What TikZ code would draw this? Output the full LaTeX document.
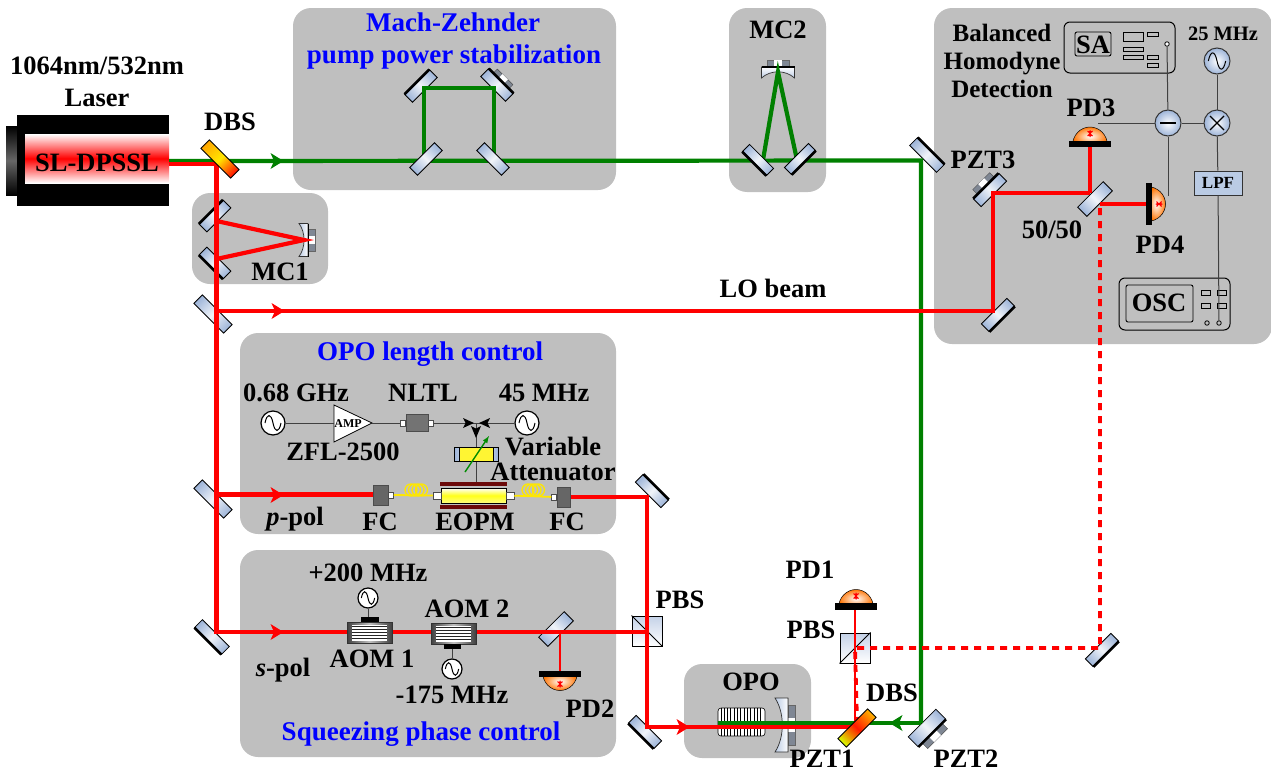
\documentclass[tikz,border=0pt]{standalone}
\usepackage{fontspec}
\setmainfont{Liberation Serif}
\usetikzlibrary{calc}
\definecolor{panel}{HTML}{BFBFBF}
\definecolor{gbeam}{HTML}{008000}
\definecolor{rbeam}{HTML}{FF0000}
\definecolor{mblue}{HTML}{9DB4D8}
\definecolor{pzgray}{HTML}{7F8794}
\definecolor{darkred}{HTML}{6B0A0A}
\tikzset{
  panelbox/.style={fill=panel,draw=none,rounded corners=18pt},
  redb/.style={draw=rbeam,line width=4.2pt},
  redthin/.style={draw=rbeam,line width=2.6pt},
  greenb/.style={draw=gbeam,line width=4.2pt},
  reddash/.style={draw=rbeam,line width=3.8pt,dash pattern=on 7pt off 6pt},
  wire/.style={draw=black!75,line width=1pt},
  lab/.style={font=\bfseries\fontsize{26.5}{28}\selectfont,inner sep=0pt,text=black},
  bluelab/.style={font=\bfseries\fontsize{27}{28}\selectfont,inner sep=0pt,text=blue},
  smalllab/.style={font=\bfseries\fontsize{20.5}{22}\selectfont,inner sep=0pt},
  srcnode/.style={circle,draw=black,line width=1.2pt,fill=white,inner sep=0pt},
  bluesrc/.style={circle,draw=black!80,line width=1pt,inner color=white,outer color=mblue,inner sep=0pt},
  instr/.style={draw=black,line width=1pt,rounded corners=6pt,fill=panel},
  inner/.style={draw=black,line width=.9pt,fill=panel},
}
% name x y angle length width edge(-1,0,1)
\newcommand{\mirrorcomp}[7]{%
  \coordinate (#1) at (#2,#3);
  \begin{scope}[transform canvas={shift={(#2,#3)},rotate=#4}]
    \pgfmathsetmacro{\hl}{#5/2}\pgfmathsetmacro{\hw}{#6/2}
    \path[draw=black,line width=.8pt,left color=mblue,right color=mblue,middle color=mblue!15]
      (-\hl,-\hw) rectangle (\hl,\hw);
    \ifnum#7=0\relax\else
      \fill[black] (-\hl,#7*\hw-#7*1) rectangle (\hl,#7*\hw+#7*1.6);
    \fi
  \end{scope}}
% x y angle side gap halflength thickness
\newcommand{\pztcomp}[7]{%
  \begin{scope}[transform canvas={shift={(#1,#2)},rotate=#3}]
    \fill[pzgray,draw=black!70,line width=.4pt] (-#6,#4*#5) rectangle (#6,#4*#5+#4*#7);
    \fill[white] (-#6*.35,#4*#5) rectangle (#6*.35,#4*#5+#4*#7);
  \end{scope}}
% DBS: name x y angle colours
\newcommand{\dbscomp}[7]{%
  \coordinate (#1) at (#2,#3);
  \begin{scope}[transform canvas={shift={(#2,#3)},rotate=#4}]
    \path[draw=black,line width=.8pt,left color=#5,right color=#7,middle color=#6]
      (-21,-6) rectangle (21,6);
  \end{scope}}
% curved mirror: name x y angle halfheight depth pzthalf barwidth
\newcommand{\cmirror}[8]{%
  \coordinate (#1) at (#2,#3);
  \begin{scope}[transform canvas={shift={(#2,#3)},rotate=#4}]
    \fill[pzgray,draw=black!60,line width=.3pt] (0,-#7) rectangle (7,#7);
    \fill[white] (0,-#7*.35) rectangle (7,#7*.35);
    \path[draw=black!80,line width=.7pt,left color=mblue!70,right color=white]
      (-#6,-#5) -- (0,-#5) -- (0,#5) -- (-#6,#5)
      .. controls (-#6*.25,#5*.45) and (-#6*.25,-#5*.45) .. (-#6,-#5) -- cycle;
    \fill[black] (-#8,-#5) rectangle (#8,#5);
  \end{scope}}
% photodiode: name x y angle
\newcommand{\pdcomp}[4]{%
  \coordinate (#1) at (#2,#3);
  \begin{scope}[transform canvas={shift={(#2,#3)},rotate=#4}]
    \path[draw=black,line width=.5pt,inner color=white,outer color=orange!90!red]
      (-17.5pt,-2pt) arc[start angle=180,end angle=0,x radius=17.5pt,y radius=18.5pt] -- cycle;
    \fill[black] (-21,-3) rectangle (21,3.5);
    \draw[rbeam,line width=1pt] (-2.5,-8)--(2.5,-8) (-2.5,-12)--(2.5,-12) (0,-6.5)--(0,-13.5) (-2.5,-7.5)--(2.5,-12.5) (2.5,-7.5)--(-2.5,-12.5);
  \end{scope}}
% source symbol
\newcommand{\srccomp}[5]{%
  \node[#5,minimum size=#4*2pt] (#1) at (#2,#3) {};
  \begin{scope}[shift={(#2,#3)}]
    \draw[black,line width=1pt,scale=#4/12]
      (-8,0) .. controls (-6,-10) and (-2,-10) .. (0,0) .. controls (2,10) and (6,10) .. (8,0);
  \end{scope}}
% arrow head: x y angle colour
\newcommand{\beamtip}[4]{%
  \fill[#4,shift={(#1,#2)},rotate=#3] (-6.5,-8) -- (6.5,0) -- (-6.5,8) -- (-3,0) -- cycle;}
% AOM: name x y (left top)
\newcommand{\aomcomp}[3]{%
  \coordinate (#1) at ($(#2,#3)+(22.5,10.5)$);
  \begin{scope}[shift={(#2,#3)}]
    \path[draw=black!80,line width=.6pt,left color=black!75,right color=black!75,middle color=black!25] (0,0) rectangle (45,21);
    \fill[white] (5,2.5) rectangle (40,18.5);
    \foreach \yy in {4,7,10,13,16} \draw[black!85,line width=1.3pt] (5,\yy+.5) -- (40,\yy+.5);
  \end{scope}}
% fibre coil
\newcommand{\coil}[2]{%
  \foreach \dx in {-5,-1.5,2,5.5} \draw[yellow!90!orange,line width=1.3pt] (#1+\dx,#2) circle[radius=6pt];}
\begin{document}
\begin{tikzpicture}[x=1pt,y=-1pt]
\useasboundingbox (0,0) rectangle (1271,771);
% panels
\fill[panelbox] (293,8) rectangle (616,190);
\fill[panelbox] (729,8) rectangle (826,192);
\fill[panelbox] (934,8) rectangle (1272,344);
\fill[panelbox] (192,193) rectangle (328,284);
\fill[panelbox] (240,333) rectangle (616,534);
\fill[panelbox] (240,550) rectangle (616,757);
\fill[panelbox] (684,664) rectangle (811,758);
% laser
\path[top color=black,bottom color=black,middle color=black!60] (6,126) rectangle (17,195);
\fill[black] (17,115) rectangle (169,206);
\path[top color=white,bottom color=white,middle color=red] (25,134) rectangle (169,183);
\coordinate (laserG) at (169,161);
\coordinate (laserR) at (169,164);
\node[lab] (laserlab) at (97,163) {SL-DPSSL};
% plain mirrors under the beams
\mirrorcomp{mcA}{215}{216}{45}{34}{11}{-1}
\mirrorcomp{mcB}{215}{263}{-45}{34}{11}{1}
\mirrorcomp{bsLO}{213}{314}{-45}{42}{12}{0}
\mirrorcomp{bsP}{213}{499}{-45}{42}{12}{0}
\mirrorcomp{mS}{212}{637}{-45}{38}{11}{1}
\mirrorcomp{mzC}{421}{86}{45}{35}{11}{-1}
\pztcomp{497}{85}{-45}{-1}{5.5}{11}{6}
\mirrorcomp{mzD}{497}{85}{-45}{35}{11}{-1}
\mirrorcomp{mTR}{927}{155}{-45}{38}{11}{-1}
\pztcomp{990}{190}{45}{-1}{5.5}{12}{7}
\mirrorcomp{mPZTc}{990}{190}{45}{36}{11}{-1}
\mirrorcomp{mLO}{998}{315}{45}{36}{11}{1}
\mirrorcomp{bsH}{1095}{199}{45}{36}{13}{0}
\mirrorcomp{mDash}{1102}{650}{45}{36}{11}{1}
\mirrorcomp{mP}{652}{491}{-45}{36}{11}{-1}
\mirrorcomp{mQ}{645}{732}{-45}{36}{11}{1}
\mirrorcomp{bsS}{556}{629}{45}{36}{13}{0}
\pztcomp{927}{728}{45}{1}{7}{14}{8}
\mirrorcomp{mPZTb}{927}{728}{45}{39}{14}{1}
% curved mirrors
\cmirror{cmA}{308}{240}{0}{16.5}{9}{11}{.4}
\cmirror{cmB}{778}{67}{90}{16.5}{11}{11}{1.2}
% PBS cubes
\node[draw=black,line width=1pt,minimum size=30pt,inner sep=0pt,top color=mblue!60,bottom color=white] (pbsA) at (647,631) {};
\node[draw=black,line width=1pt,minimum size=30pt,inner sep=0pt,top color=mblue!60,bottom color=white] (pbsB) at (855,648) {};
\draw[black,line width=1pt] (pbsA.north west) -- (pbsA.south east);
\draw[black,line width=1pt] (pbsB.south west) -- (pbsB.north east);
% crystal
\begin{scope}[shift={(718,708)}]
  \path[draw=black,line width=.6pt,fill=white,rounded corners=3pt] (0,0) rectangle (47,28);
  \foreach \xx in {3,6.3,...,45} \draw[black,line width=.9pt] (\xx,0) -- (\xx,28);
\end{scope}
\coordinate (crystal) at (718,723);
\cmirror{cmO}{788}{725}{0}{27}{13}{20}{0}
% beam named vertices
\coordinate (g1) at (424,160);
\coordinate (g2) at (424,88);
\coordinate (g3) at (494,88);
\coordinate (g4) at (494,160);
\coordinate (g5) at (763,160);
\coordinate (g6) at (778,72);
\coordinate (g7) at (797,160);
\coordinate (g8) at (921,160.5);
\coordinate (g9) at (921,723);
\coordinate (r1) at (216.5,164);
\coordinate (r2) at (216.5,221);
\coordinate (r3) at (304,240);
\coordinate (r4) at (216.5,259);
\coordinate (r5) at (216.5,311);
\coordinate (r6) at (216.5,494.5);
\coordinate (r7) at (216.5,632);
\coordinate (r8) at (993,311);
\coordinate (r9) at (993,193);
\coordinate (r10) at (1090,193);
\coordinate (r11) at (1100,204);
\coordinate (r12) at (647,497);
\coordinate (r13) at (647,727);
\coordinate (r14) at (855,727);
\coordinate (r15) at (560,631);
\coordinate (d1) at (1100,208);
\coordinate (d2) at (1100,648);
% green beams
\draw[greenb] (laserG) -- (g8) -- (g9);
\draw[greenb] (g1) -- (g2) -- (g3) -- (g4);
\draw[greenb,line join=miter] (g5) -- (g6) -- (g7);
% mirrors over the green beam
\mirrorcomp{mzA}{426}{159}{45}{35}{11}{0}
\mirrorcomp{mzB}{493}{159}{-45}{35}{11}{0}
\mirrorcomp{mcL}{758}{160}{-45}{34}{10}{1}
\mirrorcomp{mcR}{800}{159}{45}{34}{10}{1}
% red beams
\draw[redb] (laserR) -- (r1) -- (r7) -- (r13 |- r7) -- (r12);
\draw[redb,line join=miter] (r2) -- (r3) -- (r4);
\draw[redb] (r5) -- (r8) -- (r9) -- (r10);
\draw[redb] (r6) -- (373,494.5);
\draw[redb] (570,497) -- (r12) -- (r13) -- (r14);
\draw[redb] (r11) -- (1147,204);
\draw[redb] (r10) -- (1090,146);
\draw[redthin] (r15) -- (560,672);
\draw[redthin] (855,608) -- (r14);
\draw[reddash] (d1) -- (d2) -- (pbsB.center) -- (857,722);
\draw[greenb] (g9) -- (crystal);
% AOMs on beam
\aomcomp{aomA}{347}{622}
\aomcomp{aomB}{431}{623}
\fill[black] (361,617) rectangle (379,622);
\fill[black] (444,644) rectangle (461,649);
\srccomp{srcA}{368}{598}{10}{srcnode}
\srccomp{srcB}{452}{669}{10}{srcnode}
\draw[wire] (srcA) -- (368,617);
\draw[wire] (srcB) -- (452,649);
% DBS
\dbscomp{dbsA}{220}{159}{-45}{orange!70!yellow}{yellow!80!orange}{red!90!orange}
\dbscomp{dbsB}{857}{728}{45}{yellow!85!green}{red!80!orange}{orange!60!yellow}
% photodiodes
\pdcomp{pdA}{856}{606}{0}
\pdcomp{pdB}{560}{674}{180}
\pdcomp{pdC}{1090}{143.5}{0}
\pdcomp{pdD}{1149}{204}{-90}
% arrows
\beamtip{277}{161}{0}{gbeam}
\beamtip{278}{311}{0}{rbeam}
\beamtip{277}{495}{0}{rbeam}
\beamtip{277}{632}{0}{rbeam}
\beamtip{683}{727}{0}{rbeam}
\beamtip{896}{723}{180}{gbeam}
% OPO length control electronics
\srccomp{srcC}{273}{423}{12}{srcnode}
\path[draw=black,line width=.8pt,fill=white] (334,405) -- (372,423) -- (334,442) -- cycle;
\coordinate (ampin) at (334,423);
\coordinate (ampout) at (372,423);
\node[font=\bfseries\fontsize{12}{12}\selectfont,inner sep=0pt] (amplab) at (348,424) {AMP};
\node[draw=black!70,line width=.6pt,fill=black!55,minimum width=22pt,minimum height=17pt,inner sep=0pt] (nltl) at (417,423) {};
\node[draw=black!70,line width=.5pt,fill=white,minimum width=5pt,minimum height=6pt,inner sep=0pt,anchor=east] (nltlL) at (nltl.west) {};
\node[draw=black!70,line width=.5pt,fill=white,minimum width=5pt,minimum height=6pt,inner sep=0pt,anchor=west] (nltlR) at (nltl.east) {};
\srccomp{srcD}{527}{423}{12}{srcnode}
\coordinate (sum) at (476,423);
\draw[wire] (srcC) -- (ampin);
\draw[wire] (ampout) -- (nltlL);
\draw[wire] (nltlR) -- (sum);
\draw[wire] (srcD) -- (sum);
\draw[wire] (sum) -- (476,482);
\fill[black,shift={(469,423)}] (-6,-5) -- (5,0) -- (-6,5) -- (-3.5,0) -- cycle;
\fill[black,shift={(484,423)},rotate=180] (-6,-5) -- (5,0) -- (-6,5) -- (-3.5,0) -- cycle;
\fill[black,shift={(476,432)},rotate=-90] (-6,-5) -- (6,0) -- (-6,5) -- (-3.5,0) -- cycle;
% variable attenuator
\path[draw=black,line width=.8pt,left color=mblue,right color=mblue,middle color=white] (454,447) rectangle (498,461);
\path[draw=black,line width=.5pt,fill=yellow!80!white] (459,447) rectangle (493,461);
\coordinate (voaA) at (465,472);
\coordinate (voaB) at (489,436);
\draw[draw=green!55!black,line width=1.4pt,-latex] (voaA) -- (voaB);
% EOPM
\fill[darkred] (440,482) rectangle (507,486);
\fill[darkred] (440,505) rectangle (507,509);
\path[draw=black,line width=.5pt,top color=white,bottom color=yellow!50!white,middle color=yellow!90!white] (441,488) rectangle (506,503);
\node[draw=black!70,line width=.5pt,fill=white,minimum width=8pt,minimum height=7pt,inner sep=0pt] (eoL) at (437,495.5) {};
\node[draw=black!70,line width=.5pt,fill=white,minimum width=8pt,minimum height=7pt,inner sep=0pt] (eoR) at (510,495.5) {};
% FC
\node[draw=black!70,line width=.5pt,fill=black!60,minimum width=15pt,minimum height=20pt,inner sep=0pt] (fcA) at (380.5,495) {};
\node[draw=black!70,line width=.5pt,fill=white,minimum width=5pt,minimum height=6pt,inner sep=0pt,anchor=west] (fcAp) at (fcA.east) {};
\node[draw=black!70,line width=.5pt,fill=black!60,minimum width=13pt,minimum height=20pt,inner sep=0pt] (fcB) at (563.5,497) {};
\node[draw=black!70,line width=.5pt,fill=white,minimum width=5pt,minimum height=6pt,inner sep=0pt,anchor=east] (fcBp) at (fcB.west) {};
\coil{416}{490}
\coil{533}{490}
\draw[yellow!90!orange,line width=1.8pt] (fcAp) -- (eoL);
\draw[yellow!90!orange,line width=1.8pt] (eoR) -- (fcBp);
% BHD electronics
\draw[instr] (1064,22) rectangle (1175,73);
\draw[inner,rounded corners=2pt] (1075,32) rectangle (1111,56);
\foreach \a/\b/\c/\d in {1123/32/1143/41,1147/32/1158/36,1123/47/1143/51,1123/55/1143/59,1147/55/1158/59,1147/63/1158/67}
  \draw[inner] (\a,\b) rectangle (\c,\d);
\node[circle,draw=black,line width=.8pt,fill=white,minimum size=4.5pt,inner sep=0pt] (saport) at (1167,44) {};
\draw[instr] (1119,278) rectangle (1230,330);
\draw[inner,rounded corners=2pt] (1126,285) rectangle (1193,322);
\foreach \a/\b/\c/\d in {1201/290/1210/295,1217/290/1226/295,1201/303/1210/308,1217/303/1226/308}
  \draw[inner] (\a,\b) rectangle (\c,\d);
\node[circle,draw=black,line width=.8pt,minimum size=4.5pt,inner sep=0pt] (oscportA) at (1207,323) {};
\node[circle,draw=black,line width=.8pt,minimum size=4.5pt,inner sep=0pt] (oscport) at (1219,323) {};
\srccomp{srcE}{1217}{61}{13}{bluesrc}
\node[bluesrc,minimum size=26pt] (minus) at (1168,123) {};
\draw[black,line width=1.4pt] (1160,123) -- (1176,123);
\node[bluesrc,minimum size=26pt] (mixer) at (1217,123) {};
\draw[black,line width=1.2pt] (1210,116) -- (1224,130) (1210,130) -- (1224,116);
\node[draw=black!80,line width=.8pt,fill=mblue!70,minimum width=48pt,minimum height=24pt,inner sep=0pt,font=\bfseries\fontsize{17}{17}\selectfont] (lpf) at (1218,183) {LPF};
\draw[wire] (saport) -- (minus);
\draw[wire] (srcE) -- (mixer);
\draw[wire] (minus) -- (mixer);
\draw[wire] (1098,123) -- (minus);
\draw[wire] (1168,196) -- (minus);
\draw[wire] (mixer) -- (lpf);
\draw[wire] (lpf) -- (oscport);
% labels
\node[lab] (t1) at (97,66) {1064nm/532nm};
\node[lab] (t2) at (97,98) {Laser};
\node[lab] (t3) at (230,122) {DBS};
\node[lab] (t4) at (280,272) {MC1};
\node[lab] (t5) at (778,30) {MC2};
\node[bluelab] (t6) at (453,22) {Mach-Zehnder};
\node[bluelab] (t7) at (454,57) {pump power stabilization};
\node[lab,font=\bfseries\fontsize{25}{27}\selectfont] (t8) at (1002,33) {Balanced};
\node[lab,font=\bfseries\fontsize{25}{27}\selectfont] (t9) at (1002,64) {Homodyne};
\node[lab,font=\bfseries\fontsize{25}{27}\selectfont] (t10) at (1002,89) {Detection};
\node[lab] (t11) at (1093,45) {SA};
\node[lab] (t12) at (1160,245) {PD4};
\node[smalllab] (t13) at (1223,34) {25 MHz};
\node[lab] (t14) at (1091,108) {PD3};
\node[lab] (t15) at (983,160) {PZT3};
\node[lab] (t16) at (1052,230) {50/50};
\node[lab] (t17) at (1159,303) {OSC};
\node[lab] (t18) at (773,288) {LO beam};
\node[bluelab] (t19) at (430,354) {OPO length control};
\node[lab] (t20) at (296,393) {0.68 GHz};
\node[lab] (t21) at (423,393) {NLTL};
\node[lab] (t22) at (544,393) {45 MHz};
\node[lab] (t23) at (343,452) {ZFL-2500};
\node[lab] (t24) at (553,447) {Variable};
\node[lab] (t25) at (553,472) {Attenuator};
\node[lab] (t26) at (295,519) {\itshape p\upshape-pol};
\node[lab] (t27) at (380,522) {FC};
\node[lab] (t28) at (475,522) {EOPM};
\node[lab] (t29) at (567,522) {FC};
\node[lab] (t30) at (368,573) {+200 MHz};
\node[lab] (t31) at (467,609) {AOM 2};
\node[lab] (t32) at (372,659) {AOM 1};
\node[lab] (t33) at (283,670) {\itshape s\upshape-pol};
\node[lab] (t34) at (452,695) {-175 MHz};
\node[lab] (t35) at (590,709) {PD2};
\node[bluelab] (t36) at (421,734) {Squeezing phase control};
\node[lab] (t37) at (680,600) {PBS};
\node[lab] (t38) at (810,570) {PD1};
\node[lab] (t39) at (811,630) {PBS};
\node[lab] (t40) at (751,682) {OPO};
\node[lab] (t41) at (892,693) {DBS};
\node[lab] (t42) at (822,759) {PZT1};
\node[lab] (t43) at (966,759) {PZT2};
\end{tikzpicture}
\end{document}
